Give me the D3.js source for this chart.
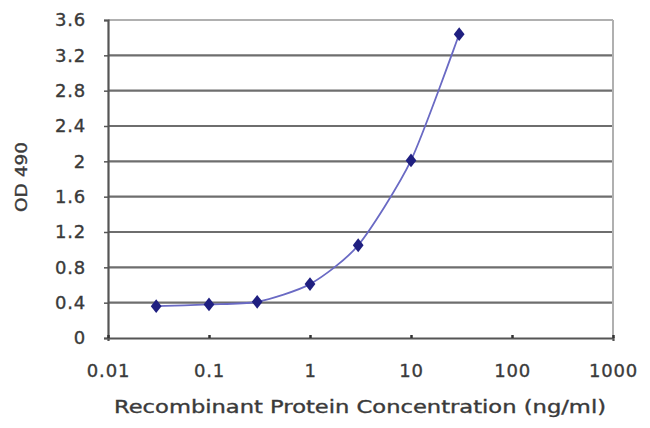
<!DOCTYPE html>
<html><head><meta charset="utf-8">
<script src="https://cdn.jsdelivr.net/npm/d3@7"></script>
<style>body{margin:0;background:#fff}svg{display:block}text{font-family:"DejaVu Sans",Verdana,sans-serif;fill:#3a3a3a;stroke:#3a3a3a;stroke-width:0.35px}</style>
</head><body><svg id="c" width="650" height="428"></svg>
<script>
const concentrations = [0.03, 0.1, 0.3, 1, 3, 10, 30];
const odValues = [0.36, 0.38, 0.41, 0.61, 1.05, 2.01, 3.44];
const xTicks = [0.01, 0.1, 1, 10, 100, 1000];
const xTickLabels = ["0.01", "0.1", "1", "10", "100", "1000"];
const yTicks = [0, 0.4, 0.8, 1.2, 1.6, 2, 2.4, 2.8, 3.2, 3.6];
const yTickLabels = ["0", "0.4", "0.8", "1.2", "1.6", "2", "2.4", "2.8", "3.2", "3.6"];

const svg = d3.select("#c");
const L = 108, R = 613, T = 20, B = 338;
const x = d3.scaleLog().domain([0.01, 1000]).range([L, R]);
const y = d3.scaleLinear().domain([0, 3.6]).range([B, T]);

// gridlines
svg.append("g").selectAll("line").data(yTicks.slice(1)).join("line")
  .attr("x1", L).attr("x2", R).attr("y1", d => y(d)).attr("y2", d => y(d))
  .attr("stroke", d => d === 3.6 ? "#b0b0b0" : "#6e6e6e").attr("stroke-width", 2.2);
// right border
svg.append("line").attr("x1", R).attr("x2", R).attr("y1", T).attr("y2", B)
  .attr("stroke", "#b0b0b0").attr("stroke-width", 2);

// y axis
const yAxis = d3.axisLeft(y).tickValues(yTicks).tickFormat((d, i) => yTickLabels[i]).tickSize(4).tickPadding(18);
const gy = svg.append("g").attr("transform", `translate(${L},0)`).call(yAxis);
gy.select(".domain").attr("stroke", "#555").attr("stroke-width", 2.2);
gy.selectAll(".tick line").attr("stroke", "#555").attr("stroke-width", 1.5);
gy.selectAll(".tick text").style("font-size", "18px").style("fill", "#3a3a3a")
  .style("font-family", "'DejaVu Sans',Verdana,sans-serif").style("letter-spacing", "0.8px");

// x axis
const xAxis = d3.axisBottom(x).tickValues(xTicks).tickFormat((d, i) => xTickLabels[i]).tickSize(3).tickPadding(23);
const gx = svg.append("g").attr("transform", `translate(0,${B})`).call(xAxis);
gx.select(".domain").attr("stroke", "#555").attr("stroke-width", 2.2);
gx.selectAll(".tick line").attr("stroke", "#333").attr("stroke-width", 2.5).attr("y1", -3).attr("y2", 0);
gx.selectAll(".tick text").style("font-size", "18px").style("fill", "#3a3a3a")
  .style("font-family", "'DejaVu Sans',Verdana,sans-serif").style("letter-spacing", "0.8px");

// line
const pts = concentrations.map((c, i) => [c, odValues[i]]);
svg.append("path").datum(pts)
  .attr("d", d3.line().x(d => x(d[0])).y(d => y(d[1])).curve(d3.curveCardinal.tension(0.3)))
  .attr("fill", "none").attr("stroke", "#6a6ac4").attr("stroke-width", 1.8);

// markers
svg.append("g").selectAll("path").data(pts).join("path")
  .attr("d", d3.symbol().type(d3.symbolDiamond).size(55))
  .attr("transform", d => `translate(${x(d[0])},${y(d[1])}) scale(1.35,1)`)
  .attr("fill", "#1f1f80");

// axis titles
svg.append("text").attr("x", 360).attr("y", 413).attr("text-anchor", "middle")
  .attr("textLength", 492).attr("lengthAdjust", "spacingAndGlyphs")
  .style("font-size", "17px")
  .text("Recombinant Protein Concentration (ng/ml)");
svg.append("text").attr("transform", "translate(27,177) rotate(-90)").attr("text-anchor", "middle")
  .attr("textLength", 70).attr("lengthAdjust", "spacingAndGlyphs")
  .style("font-size", "16px")
  .text("OD 490");
</script></body></html>
